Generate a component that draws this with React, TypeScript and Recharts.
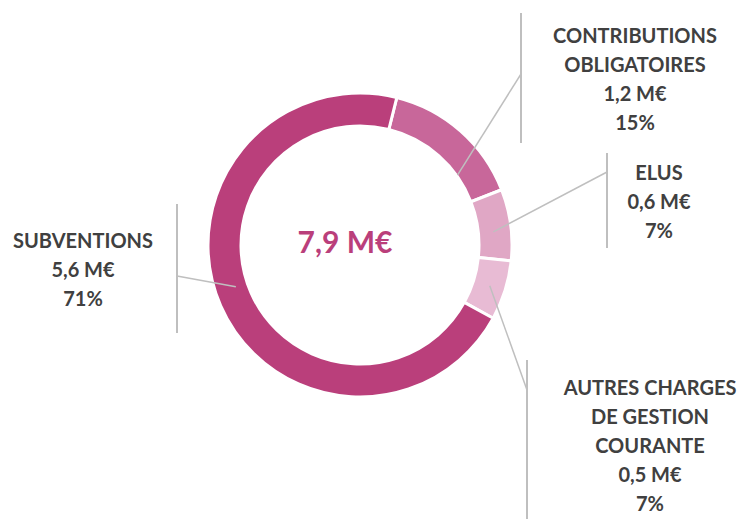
import React from "react";
import { PieChart, Pie, Cell } from "recharts";

const categories = [
  ["CONTRIBUTIONS", "OBLIGATOIRES"],
  ["ELUS"],
  ["AUTRES CHARGES", "DE GESTION", "COURANTE"],
  ["SUBVENTIONS"],
];
const amounts = [1.2, 0.6, 0.5, 5.6];
const amountLabels = ["1,2 M€", "0,6 M€", "0,5 M€", "5,6 M€"];
const percentLabels = ["15%", "7%", "7%", "71%"];
const totalLabel = "7,9 M€";

const colors = ["#C8679A", "#E0A7C5", "#E8BBD4", "#BA3F7B"];
const FONT = "Lato, 'Open Sans', sans-serif";
const LINE_H = 29;

// where each label block sits, and its gray bracket
const labelLayout = [
  { tx: 635, ty: 35, bx: 521, by1: 13, by2: 143, jy: 74, shift: 13, r: 120 },
  { tx: 659, ty: 172, bx: 607, by1: 153, by2: 248, jy: 172, shift: 2, r: 134 },
  { tx: 650, ty: 387, bx: 527, by1: 360, by2: 519, jy: 390, shift: 0, r: 136 },
  { tx: 83, ty: 240, bx: 177, by1: 204, by2: 333, jy: 276, shift: 5, r: 131 },
];

const data = amounts.map((v, i) => ({ name: categories[i].join(" "), value: v }));

const RAD = Math.PI / 180;

function renderLabel(props: any) {
  const { cx, cy, midAngle, index } = props;
  const l = labelLayout[index];
  const a = (midAngle - l.shift) * RAD;
  const sx = cx + l.r * Math.cos(-a);
  const sy = cy + l.r * Math.sin(-a);
  const lines = [...categories[index], amountLabels[index], percentLabels[index]];
  return (
    <g key={`lbl-${index}`}>
      <line x1={sx} y1={sy} x2={l.bx} y2={l.jy} stroke="#BFBFBF" strokeWidth={1.5} />
      <line x1={l.bx} y1={l.by1} x2={l.bx} y2={l.by2} stroke="#BFBFBF" strokeWidth={2} />
      {lines.map((t, k) => (
        <text
          key={k}
          x={l.tx}
          y={l.ty + k * LINE_H}
          textAnchor="middle"
          dominantBaseline="central"
          fill="#404040"
          fontFamily={FONT}
          fontWeight={700}
          fontSize={20}
        >
          {t}
        </text>
      ))}
    </g>
  );
}

export default function App() {
  return (
    <div style={{ position: "absolute", left: 0, top: 0, background: "#fff" }}>
      <PieChart width={741} height={519}>
        <Pie
          data={data}
          dataKey="value"
          cx={355}
          cy={240}
          innerRadius={119}
          outerRadius={152}
          startAngle={76}
          endAngle={-284}
          stroke="#fff"
          strokeWidth={3}
          label={renderLabel}
          labelLine={false}
          isAnimationActive={false}
        >
          {data.map((d, i) => (
            <Cell key={d.name} fill={colors[i]} />
          ))}
        </Pie>
        <text
          x={345}
          y={241}
          textAnchor="middle"
          dominantBaseline="central"
          fill="#BA3F7B"
          fontFamily={FONT}
          fontWeight={700}
          fontSize={30}
        >
          {totalLabel}
        </text>
      </PieChart>
    </div>
  );
}
